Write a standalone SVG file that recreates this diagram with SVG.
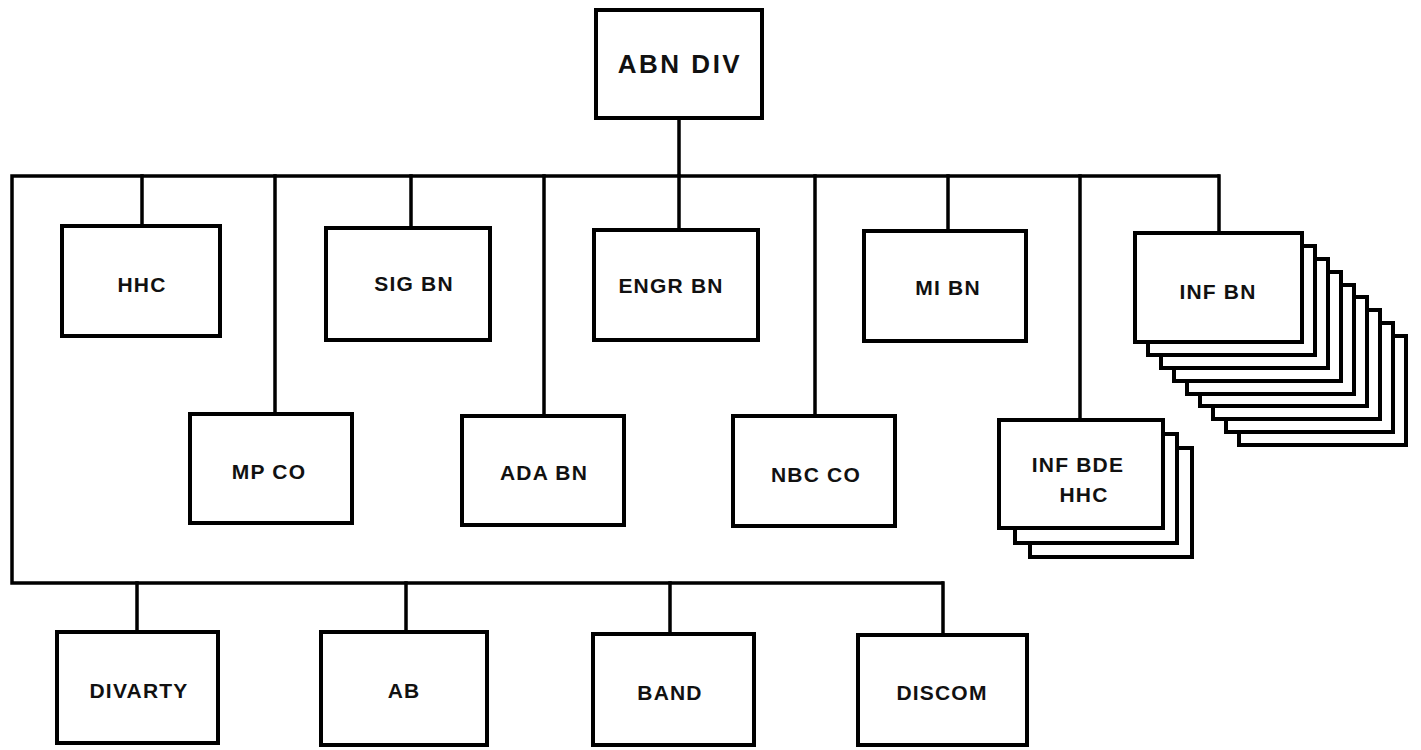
<svg xmlns="http://www.w3.org/2000/svg" width="1421" height="750" viewBox="0 0 1421 750">
<style>
.b{fill:#fff;stroke:#000;stroke-width:4}
.c{fill:none;stroke:#000;stroke-width:3.5;stroke-linecap:square}
.t{font-family:"Liberation Sans",Arial,sans-serif;font-weight:bold;font-size:21px;letter-spacing:1.2px;text-anchor:middle;fill:#111}
.big{font-size:26px;letter-spacing:2.5px}
</style>
<rect width="1421" height="750" fill="#fff"/>
<g id="connectors">
<path class="c" d="M679 118V176M12 176H1218M12 176V583H942"/>
<path class="c" d="M142 176V226M411 176V228M679 176V230M948 176V231M1219 176V233"/>
<path class="c" d="M275 176V414M544 176V416M815 176V416M1080 176V420"/>
<path class="c" d="M137 583V632M406 583V632M670 583V634M943 583V635"/>
</g>
<g id="abn-div"><rect class="b" x="596" y="10" width="166" height="108"/><text class="t big" x="680" y="73">ABN DIV</text></g>
<g id="hhc"><rect class="b" x="62" y="226" width="158" height="110"/><text class="t" x="142" y="292">HHC</text></g>
<g id="sig-bn"><rect class="b" x="326" y="228" width="164" height="112"/><text class="t" x="414" y="291">SIG BN</text></g>
<g id="engr-bn"><rect class="b" x="594" y="230" width="164" height="110"/><text class="t" x="671" y="293">ENGR BN</text></g>
<g id="mi-bn"><rect class="b" x="864" y="231" width="162" height="110"/><text class="t" x="948" y="295">MI BN</text></g>
<g id="inf-bn">
<rect class="b" x="1239" y="336" width="167" height="109"/>
<rect class="b" x="1226" y="323" width="167" height="109"/>
<rect class="b" x="1213" y="310" width="167" height="109"/>
<rect class="b" x="1200" y="297" width="167" height="109"/>
<rect class="b" x="1187" y="285" width="167" height="109"/>
<rect class="b" x="1174" y="272" width="167" height="109"/>
<rect class="b" x="1161" y="259" width="167" height="109"/>
<rect class="b" x="1148" y="246" width="167" height="109"/>
<rect class="b" x="1135" y="233" width="167" height="109"/>
<text class="t" x="1218" y="299">INF BN</text>
</g>
<g id="mp-co"><rect class="b" x="190" y="414" width="162" height="109"/><text class="t" x="269" y="479">MP CO</text></g>
<g id="ada-bn"><rect class="b" x="462" y="416" width="162" height="109"/><text class="t" x="544" y="480">ADA BN</text></g>
<g id="nbc-co"><rect class="b" x="733" y="416" width="162" height="110"/><text class="t" x="816" y="482">NBC CO</text></g>
<g id="inf-bde-hhc">
<rect class="b" x="1030" y="448" width="162" height="109"/>
<rect class="b" x="1015" y="434" width="162" height="109"/>
<rect class="b" x="999" y="420" width="164" height="108"/>
<text class="t" x="1078" y="472">INF BDE</text>
<text class="t" x="1084" y="502">HHC</text>
</g>
<g id="divarty"><rect class="b" x="57" y="632" width="161" height="111"/><text class="t" x="139" y="698">DIVARTY</text></g>
<g id="ab"><rect class="b" x="321" y="632" width="166" height="113"/><text class="t" x="404" y="698">AB</text></g>
<g id="band"><rect class="b" x="593" y="634" width="161" height="111"/><text class="t" x="670" y="700">BAND</text></g>
<g id="discom"><rect class="b" x="858" y="635" width="169" height="110"/><text class="t" x="942" y="700">DISCOM</text></g>
</svg>
